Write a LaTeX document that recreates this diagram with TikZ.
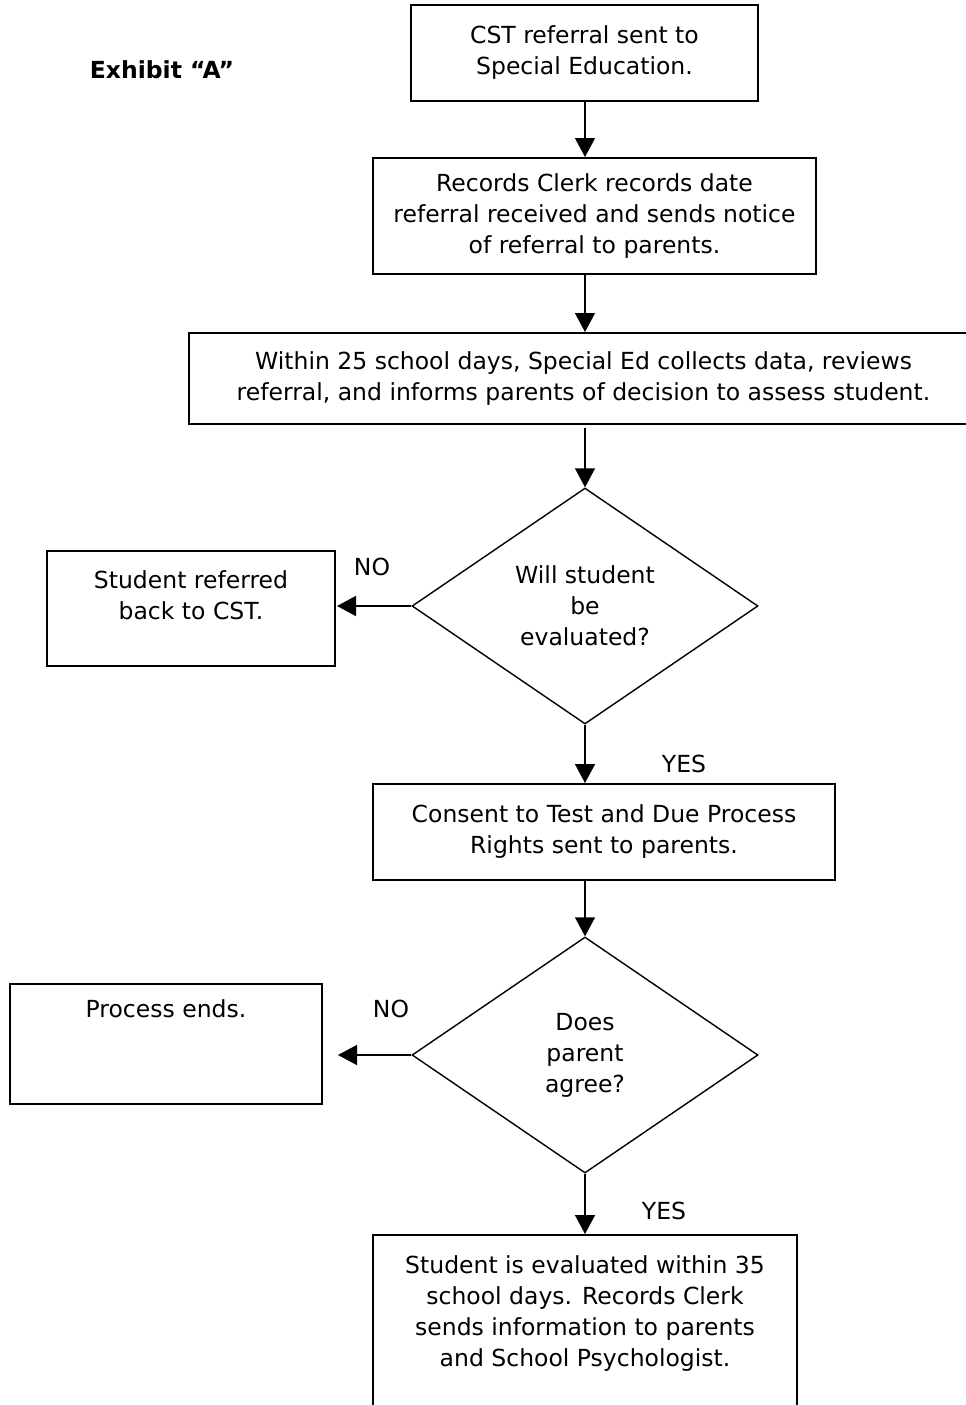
\documentclass[tikz,border=0pt]{standalone}
\usepackage{fontspec}
\setmainfont{DejaVu Sans}
\usetikzlibrary{arrows.meta,positioning,shapes.geometric}

\begin{document}
\begin{tikzpicture}[x=1pt, y=-1pt, >={Triangle[length=19pt,width=20pt]},
  every node/.style={font=\fontsize{23.5}{31}\selectfont},
  box/.style={draw, line width=2pt, align=center, inner sep=0pt},
  decision/.style={draw, diamond, line width=1.4pt, align=center, inner sep=0pt,
    minimum width=346pt, minimum height=236pt},
  flow/.style={->, line width=1.4pt},
  lbl/.style={inner sep=0pt}]
  \useasboundingbox (0,0) rectangle (966,1405);
  \clip (0,0) rectangle (966,1405);

  % Define nodes
  \node[font=\bfseries\fontsize{23.5}{31}\selectfont] (exhibit) at (162,70) {Exhibit “A”};
  \node[box, minimum width=347pt, minimum height=96pt] (referral) at (584.5,53)
    {CST referral sent to\\Special Education.};
  \node[box, minimum width=443pt, minimum height=116pt] (clerk) at (594.5,216)
    {Records Clerk records date\\referral received and sends notice\\of referral to parents.};
  \node[box, minimum width=789pt, minimum height=91pt] (review) at (583.5,378.5)
    {Within 25 school days, Special Ed collects data, reviews\\referral, and informs parents of decision to assess student.};
  \node[decision] (evaluated) at (585,606) {Will student\\be\\evaluated?};
  \node[box, minimum width=288pt, minimum height=115pt] (back) at (191,608.5)
    {Student referred\\back to CST.\\[-14pt]\strut};
  \node[box, minimum width=462pt, minimum height=96pt] (consent) at (604,832)
    {Consent to Test and Due Process\\Rights sent to parents.};
  \node[decision] (agree) at (585,1055) {Does\\parent\\agree?};
  \node[box, minimum width=312pt, minimum height=120pt] (ends) at (166,1044)
    {Process ends.\\\strut\\\strut};
  \node[box, minimum width=424pt, minimum height=184pt] (assess) at (585,1327)
    {Student is evaluated within 35\\school days. Records Clerk\\sends information to parents\\and School Psychologist.\\[-8pt]\strut};

  % Draw arrows
  \draw[flow] (referral.south -| evaluated) to (clerk.north -| evaluated);
  \draw[flow] (clerk.south -| evaluated) to (review.north -| evaluated);
  \draw[flow, shorten <=3pt] (review.south -| evaluated) to (evaluated.north);
  \draw[flow, shorten >=1pt] (evaluated.west) to (evaluated.west -| back.east);
  \draw[flow] (evaluated.south) to (consent.north -| evaluated);
  \draw[flow] (consent.south -| agree) to (agree.north);
  \draw[flow, shorten >=15pt] (agree.west) to (agree.west -| ends.east);
  \draw[flow] (agree.south) to (assess.north -| agree);

  % Add labels beside arrows
  \node[lbl] (no1) at (372,567) {NO};
  \node[lbl] (yes1) at (684,764) {YES};
  \node[lbl] (no2) at (391,1009) {NO};
  \node[lbl] (yes2) at (664,1211) {YES};
\end{tikzpicture}
\end{document}
